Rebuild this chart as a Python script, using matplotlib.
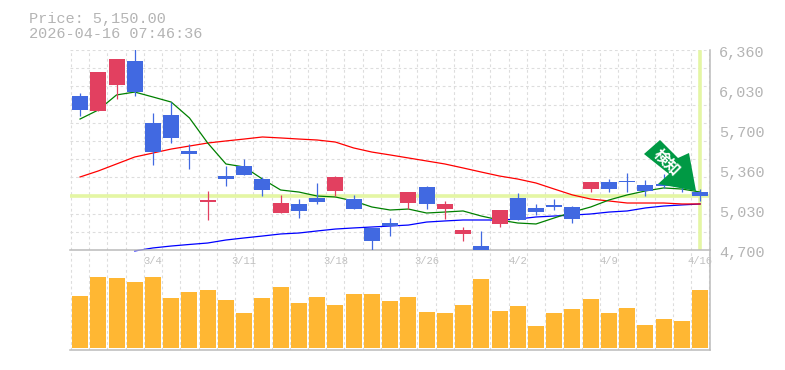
import matplotlib
matplotlib.use("Agg")
import matplotlib.pyplot as plt
import numpy as np
from matplotlib.patches import Polygon

plt.rcParams['font.family'] = ['Liberation Mono', 'DejaVu Sans']

open_p = [5978, 5854, 6070, 6269, 5754, 5820, 5522, 5098, 5314, 5397, 5289, 5007, 5082, 5132, 5190, 5123, 4883, 4924,
          5090, 5223, 5040, 4833, 4733, 4916, 5132, 5049, 5074, 5057, 5206, 5264, 5273, 5240, 5248, 5281, 5181]
high_p = [6003, 6177, 6285, 6380, 5837, 5928, 5580, 5190, 5397, 5455, 5306, 5157, 5123, 5256, 5314, 5157, 4883, 4966,
          5181, 5231, 5107, 4891, 4858, 5032, 5173, 5082, 5123, 5065, 5264, 5289, 5339, 5281, 5330, 5364, 5206]
low_p = [5812, 5854, 5953, 5978, 5406, 5588, 5372, 4949, 5231, 5322, 5148, 5007, 4966, 5082, 5148, 5040, 4680, 4816,
         5040, 5040, 4957, 4775, 4680, 4891, 4949, 4990, 5032, 4924, 5181, 5181, 5181, 5148, 5215, 5181, 5107]
close_p = [5862, 6177, 6285, 6011, 5513, 5630, 5497, 5115, 5289, 5322, 5198, 5090, 5024, 5098, 5306, 5040, 4775, 4899,
           5181, 5082, 5082, 4866, 4700, 5032, 4949, 5015, 5057, 4957, 5264, 5206, 5264, 5190, 5231, 5231, 5148]

ma_short = [5787, 5862, 5987, 6011, 5970, 5928, 5796, 5588, 5414, 5389, 5289, 5198, 5181, 5148, 5140, 5107, 5057, 5032,
            5040, 5007, 5015, 5024, 4982, 4949, 4924, 4916, 4966, 5015, 5057, 5115, 5157, 5190, 5215, 5206, 5181]
ma_mid = [5306, 5356, 5414, 5472, 5505, 5538, 5563, 5588, 5605, 5621, 5638, 5630, 5621, 5613, 5596, 5547, 5513, 5489,
          5464, 5439, 5414, 5381, 5347, 5314, 5289, 5256, 5206, 5157, 5123, 5107, 5090, 5090, 5090, 5082, 5082]
ma_long = [np.nan, np.nan, np.nan, 4692, 4717, 4733, 4746, 4758, 4783, 4800, 4816, 4833, 4841, 4858, 4874, 4883, 4891,
           4899, 4907, 4932, 4941, 4949, 4949, 4949, 4957, 4974, 4982, 4990, 4999, 5015, 5024, 5049, 5065, 5074, 5082]

# volume in thousands
volume = [52, 71, 70, 66, 71, 50, 56, 58, 48, 35, 50, 61, 45, 51, 43, 54, 54, 47,
          51, 36, 35, 43, 69, 37, 42, 22, 35, 39, 49, 35, 40, 23, 29, 27, 58]

price_labels = ["6,360", "6,030", "5,700", "5,360", "5,030", "4,700"]
date_labels = ["3/4", "3/11", "3/18", "3/26", "4/2", "4/9", "4/16"]
date_index = [4, 9, 14, 19, 24, 29, 34]
last_price = 5150

W, H = 785, 370
GRAY = "#b4b4b4"
GRID = "#dddddd"
YELLOW = "#e4f6a4"
dashes = (0, (2.5, 2.5))


def px(x, y):
    return x / W, 1 - y / H


fig = plt.figure(figsize=(W / 100, H / 100), dpi=100)
ax = fig.add_axes([70 / W, 1 - 250 / H, 640 / W, 200 / H])
ax_vol = fig.add_axes([70 / W, 1 - 350 / H, 640 / W, 100 / H])

x = np.arange(len(close_p))
xlim = (-0.55, 34.54)
vgrid = np.arange(-0.5, 35)

ax.set_xlim(xlim)
ax.set_ylim(4700, 6360)
ax.set_xticks(vgrid)
ax.set_yticks(np.linspace(4700, 6360, 12))
ax.grid(True, color=GRID, lw=0.8, linestyle=dashes, zorder=0)
ax.tick_params(length=0, labelbottom=False, labelleft=False)
ax.set_axisbelow(True)

ax.axhline(last_price, color=YELLOW, lw=2.6, zorder=1)
ax.axvline(x[-1], color=YELLOW, lw=2.6, ymax=0.99, zorder=1)

# the long average starts just under the axis line
ax.plot(x, ma_long, color="#0000ff", lw=0.9, zorder=2, clip_on=False)
ax.plot(x, ma_mid, color="#ff0000", lw=0.9, zorder=2)
ax.plot(x, ma_short, color="#008000", lw=0.9, zorder=2)

open_a = np.array(open_p)
close_a = np.array(close_p)
colors = np.where(close_a > open_a, "#e24060", "#4169e1")
ax.vlines(x, low_p, high_p, colors=colors, lw=0.9, zorder=3)
ax.bar(x, np.abs(close_a - open_a), bottom=np.minimum(open_a, close_a), width=0.877, color=colors, zorder=4)

ax_vol.set_xlim(xlim)
ax_vol.set_ylim(-2, 98)
ax_vol.set_xticks(vgrid)
ax_vol.set_yticks([])
ax_vol.grid(True, axis="x", color=GRID, lw=0.8, linestyle=dashes)
ax_vol.set_axisbelow(True)
ax_vol.tick_params(length=0, labelbottom=False, labelleft=False)
ax_vol.bar(x, volume, width=0.877, color="#ffb733", zorder=3)
ax_vol.patch.set_alpha(0)

for a in (ax, ax_vol):
    for side in ("left", "top"):
        a.spines[side].set_visible(False)
    for side in ("bottom", "right"):
        a.spines[side].set_color("#bbbbbb")
        a.spines[side].set_linewidth(1.1)

# labels
for i, lab in enumerate(price_labels):
    fig.text(*px(719, 53.5 + 40 * i), lab, color=GRAY, fontsize=11, va="center", ha="left")
for i, lab in zip(date_index, date_labels):
    ax_vol.text(i, 1 - 11 / 100, lab, transform=ax_vol.get_xaxis_transform(), color="#c0c0c0", fontsize=7.6,
                ha="center", va="center")
fig.text(*px(29, 18.5), "Price: 5,150.00", color=GRAY, fontsize=11, va="center")
fig.text(*px(29, 33.5), "2026-04-16 07:46:36", color=GRAY, fontsize=11, va="center")

# signal arrow
arrow_pts = [(660, 140), (678, 158), (689, 153), (696, 191), (658, 184), (669, 174), (644, 154)]
fig.add_artist(Polygon([px(a, b) for a, b in arrow_pts], closed=True, transform=fig.transFigure,
                       facecolor="#009944", edgecolor="none", zorder=10))
fig.text(*px(667.5, 162), "検知", color="white", fontsize=11, rotation=-45, rotation_mode="anchor",
         ha="center", va="center", fontweight="bold", family=['Noto Sans CJK JP', 'DejaVu Sans'], zorder=11)

fig.savefig("out.png", dpi=100)
